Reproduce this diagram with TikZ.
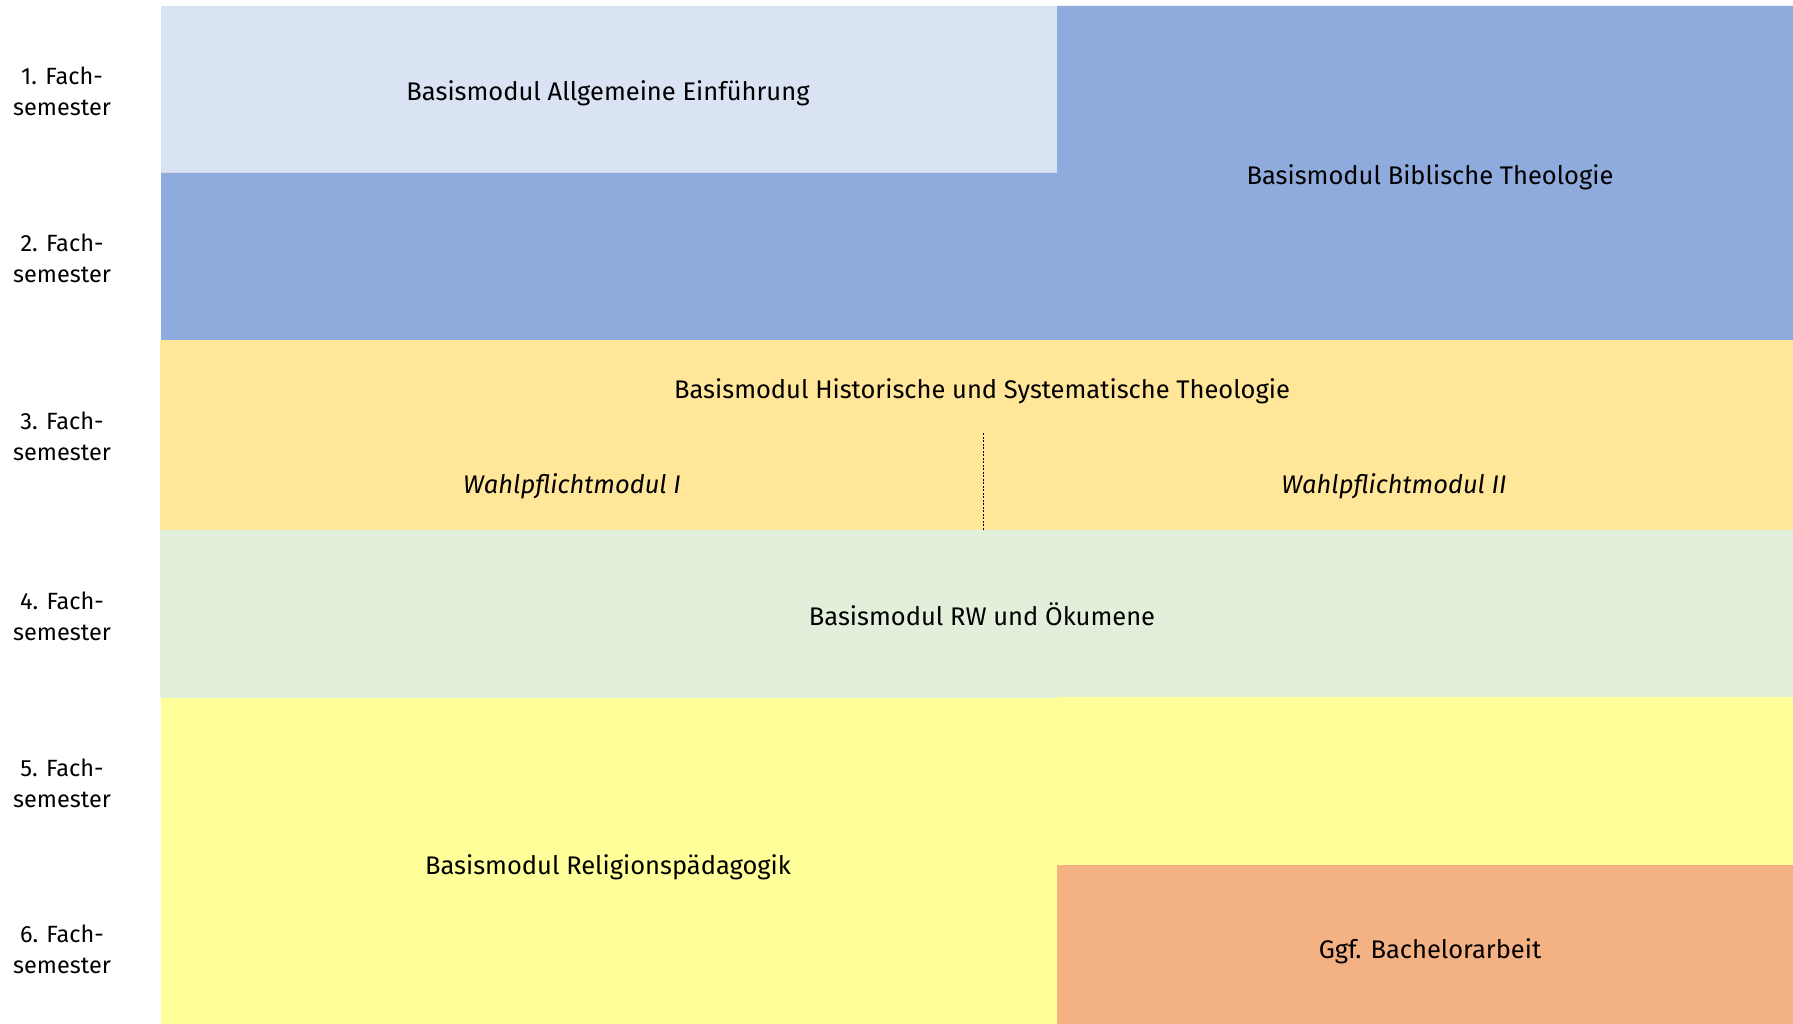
\documentclass[tikz,border=0pt]{standalone}
\usepackage{fontspec}
\setmainfont{Fira Sans}
\definecolor{lblue}{HTML}{DAE3F3}
\definecolor{mblue}{HTML}{8FAADC}
\definecolor{gold}{HTML}{FFE699}
\definecolor{lgreen}{HTML}{E2EFDA}
\definecolor{lyellow}{HTML}{FFFF99}
\definecolor{lorange}{HTML}{F4B183}
\begin{document}
\begin{tikzpicture}[x=1pt,y=-1pt,
  lbl/.style={font=\fontsize{25.5}{31}\selectfont, text=black, inner sep=0pt},
  itl/.style={lbl, font=\fontsize{25.5}{31}\selectfont\itshape},
  sem/.style={text=black, inner sep=0pt, align=center, font=\fontsize{23.5}{31}\selectfont}]
\useasboundingbox (0,0) rectangle (1793,1024);
\fill[white] (0,0) rectangle (1793,1024);
% blocks
\fill[lblue] (161,6) rectangle (1057,173);
\fill[mblue] (161,173) -- (1057,173) -- (1057,6) -- (1793,6) -- (1793,340) -- (161,340) -- cycle;
\fill[gold] (160,340) rectangle (1793,530);
\fill[lgreen] (160,530) rectangle (1793,698);
\fill[lyellow] (161,698) rectangle (1057,1024);
\fill[lyellow] (1057,697) rectangle (1793,865);
\fill[lorange] (1057,865) rectangle (1793,1024);
% dotted divider
\coordinate (dtop) at (983,433);
\coordinate (dbot) at (983,530);
\draw[black, line width=1pt, dash pattern=on 2pt off 1.5pt] (dtop) -- (dbot);
% texts
\node[lbl] (allg) at (608,93) {Basismodul Allgemeine Einführung};
\node[lbl] (bibl) at (1430,177) {Basismodul Biblische Theologie};
\node[lbl] (hist) at (982,391) {Basismodul Historische und Systematische Theologie};
\node[itl] (wp1) at (572,486) {Wahlpflichtmodul I};
\node[itl] (wp2) at (1394,486) {Wahlpflichtmodul II};
\node[lbl] (rw) at (982,614) {Basismodul RW und Ökumene};
\node[lbl] (relp) at (608,867) {Basismodul Religionspädagogik};
\node[lbl] (ba) at (1430,951) {Ggf. Bachelorarbeit};
% semester labels
\node[sem] (s1) at (62,91) {1. Fach-\\semester};
\node[sem] (s2) at (62,258) {2. Fach-\\semester};
\node[sem] (s3) at (62,436) {3. Fach-\\semester};
\node[sem] (s4) at (62,616) {4. Fach-\\semester};
\node[sem] (s5) at (62,783) {5. Fach-\\semester};
\node[sem] (s6) at (62,949) {6. Fach-\\semester};
\end{tikzpicture}
\end{document}
